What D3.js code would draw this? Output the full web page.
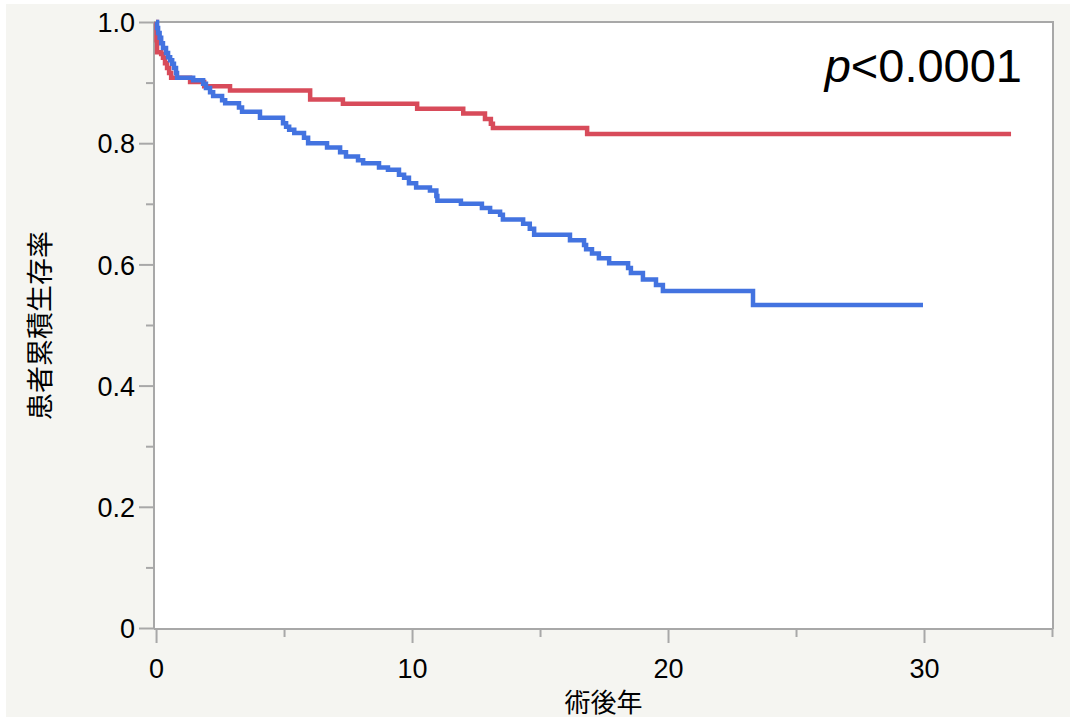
<!DOCTYPE html>
<html><head><meta charset="utf-8">
<script src="https://cdn.jsdelivr.net/npm/d3@7"></script>
<style>html,body{margin:0;padding:0;background:#fff;}svg{display:block;}</style>
</head><body>
<svg id="c" width="1076" height="721"></svg>
<script>
// ---- data ----
const redTimes = [0, 0.02, 0.04, 0.20, 0.27, 0.35, 0.43, 0.51, 0.59, 1.33, 1.88, 2.89, 6.02, 7.30, 10.20, 12.00, 12.85, 13.08, 13.16, 16.84, 33.40];
const redSurv  = [1.0, 0.970, 0.950, 0.947, 0.941, 0.932, 0.924, 0.916, 0.908, 0.901, 0.894, 0.887, 0.872, 0.865, 0.857, 0.849, 0.840, 0.832, 0.825, 0.815, 0.815];
const blueTimes = [0, 0.04, 0.08, 0.14, 0.20, 0.27, 0.39, 0.47, 0.55, 0.63, 0.70, 0.78, 0.82, 1.45, 1.84, 1.95, 2.11, 2.23, 2.58, 2.70, 3.24, 3.36, 4.06, 4.96, 5.08, 5.20, 5.40, 5.78, 5.94, 6.68, 7.19, 7.42, 7.89, 8.09, 8.71, 9.06, 9.49, 9.69, 9.88, 10.16, 10.70, 10.95, 10.99, 11.91, 12.73, 13.05, 13.44, 13.55, 14.34, 14.60, 14.77, 16.17, 16.72, 16.80, 17.03, 17.30, 17.70, 18.44, 18.55, 19.02, 19.53, 19.80, 23.32, 29.96];
const blueSurv  = [1.0, 0.990, 0.982, 0.974, 0.965, 0.957, 0.949, 0.942, 0.937, 0.931, 0.924, 0.916, 0.908, 0.904, 0.898, 0.891, 0.884, 0.878, 0.871, 0.866, 0.859, 0.852, 0.842, 0.833, 0.827, 0.822, 0.817, 0.809, 0.800, 0.793, 0.785, 0.778, 0.772, 0.767, 0.760, 0.756, 0.748, 0.743, 0.734, 0.727, 0.722, 0.713, 0.705, 0.700, 0.693, 0.687, 0.682, 0.674, 0.667, 0.659, 0.649, 0.640, 0.632, 0.625, 0.618, 0.610, 0.602, 0.594, 0.586, 0.575, 0.566, 0.556, 0.533, 0.533];
const xMajorTicks = [0, 10, 20, 30];
const xMinorTicks = [5, 15, 25, 35];
const yMajorTicks = [0, 0.2, 0.4, 0.6, 0.8, 1.0];
const yTickLabels = ["0", "0.2", "0.4", "0.6", "0.8", "1.0"];
const yMinorTicks = [0.1, 0.3, 0.5, 0.7, 0.9];
const xTitle = "術後年";
const yTitle = "患者累積生存率";
const pText = "<0.0001";

// ---- layout ----
const svg = d3.select("#c");
const L = 154, R = 1053, T = 22, B = 629;
const x = d3.scaleLinear().domain([-0.08, 35]).range([L, 1052]);
const y = d3.scaleLinear().domain([0, 1]).range([628, T]);
const gray = "#a8a8a8";
const tickFont = "'Liberation Sans', Arial, Helvetica, sans-serif";
const cjkFont = "'Noto Sans CJK JP', sans-serif";

svg.append("rect").attr("x",0).attr("y",0).attr("width",1076).attr("height",721).attr("fill","#ffffff");
svg.append("rect").attr("x",6).attr("y",4).attr("width",1064).attr("height",713).attr("fill","#f5f5f1");
svg.append("rect").attr("x",L).attr("y",T).attr("width",R-L).attr("height",B-T).attr("fill","#ffffff");

// frame (top & right)
svg.append("path").attr("d",`M${L},${T}H${R}V${B}`).attr("fill","none").attr("stroke",gray).attr("stroke-width",2);

// Y axis
const yAxis = d3.axisLeft(y).tickValues(yMajorTicks).tickSize(15).tickPadding(6)
  .tickFormat((d,i)=>yTickLabels[i]);
const gy = svg.append("g").attr("transform",`translate(${L},0)`).call(yAxis);
gy.select(".domain").attr("stroke",gray).attr("stroke-width",2).attr("d",`M0,${T}V${B}`);
gy.selectAll(".tick line").attr("stroke",gray).attr("stroke-width",2);
gy.selectAll(".tick text").attr("font-family",tickFont).attr("font-size",27).attr("fill","#000").attr("dy","0.36em").attr("x",-19);
const yMinor = d3.axisLeft(y).tickValues(yMinorTicks).tickSize(8).tickFormat("");
const gym = svg.append("g").attr("transform",`translate(${L},0)`).call(yMinor);
gym.select(".domain").remove();
gym.selectAll(".tick line").attr("stroke",gray).attr("stroke-width",2);

// X axis
const xAxis = d3.axisBottom(x).tickValues(xMajorTicks).tickSize(14).tickPadding(4).tickFormat(d3.format("d"));
const gx = svg.append("g").attr("transform",`translate(0,${B})`).call(xAxis);
gx.select(".domain").attr("stroke",gray).attr("stroke-width",2).attr("d",`M${L},0H${R}`);
gx.selectAll(".tick line").attr("stroke",gray).attr("stroke-width",2);
gx.selectAll(".tick text").attr("font-family",tickFont).attr("font-size",27).attr("fill","#000").attr("dy",0).attr("y",49);
const xMinor = d3.axisBottom(x).tickValues(xMinorTicks).tickSize(8).tickFormat("");
const gxm = svg.append("g").attr("transform",`translate(0,${B})`).call(xMinor);
gxm.select(".domain").remove();
gxm.selectAll(".tick line").attr("stroke",gray).attr("stroke-width",2);

// titles
svg.append("text").attr("x",(L+R)/2).attr("y",700).attr("text-anchor","middle").attr("dominant-baseline","central")
  .attr("font-family",cjkFont).attr("font-size",26).attr("fill","#000").text(xTitle);
svg.append("text").attr("transform",`translate(38,${(T+B)/2}) rotate(-90)`).attr("text-anchor","middle").attr("dominant-baseline","central")
  .attr("font-family",cjkFont).attr("font-size",27).attr("fill","#000").text(yTitle);

// curves
const line = d3.line().x(d=>x(d[0])).y(d=>y(d[1])).curve(d3.curveStepAfter);
const redData = redTimes.map((t,i)=>[t, redSurv[i]]);
const blueData = blueTimes.map((t,i)=>[t, blueSurv[i]]);
svg.append("path").datum(redData).attr("d",line).attr("fill","none").attr("stroke","#d84b5a").attr("stroke-width",4.5);
svg.append("path").datum(blueData).attr("d",line).attr("fill","none").attr("stroke","#4373e0").attr("stroke-width",4.5);

// p value
const pt = svg.append("text").attr("x",1022).attr("y",82).attr("text-anchor","end")
  .attr("font-family",tickFont).attr("font-size",47).attr("fill","#000");
pt.append("tspan").attr("font-style","italic").text("p");
pt.append("tspan").text(pText);
</script>
</body></html>
